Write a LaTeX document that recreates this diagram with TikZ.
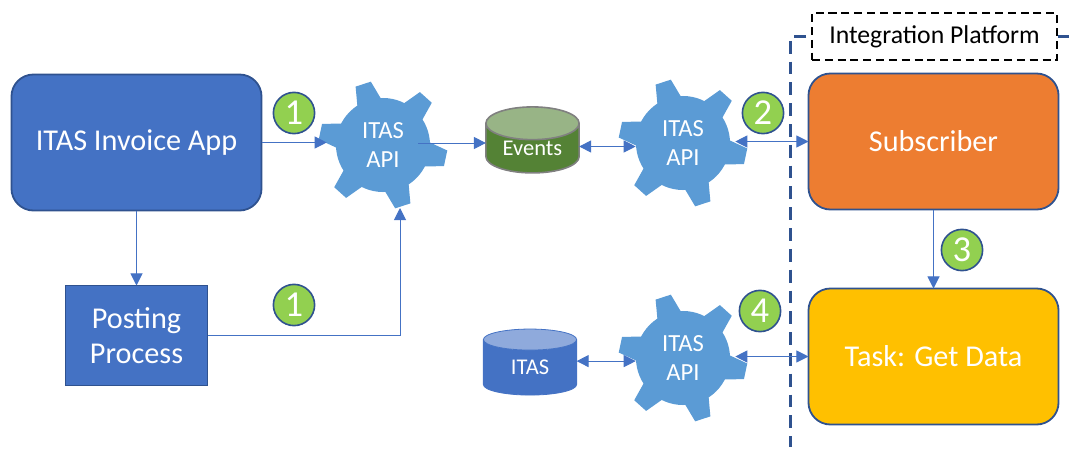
\documentclass[tikz,border=0pt]{standalone}
\usepackage{fontspec}
\setmainfont{Carlito}
\usetikzlibrary{arrows.meta,shapes.geometric}
\definecolor{itasblue}{HTML}{4472C4}
\definecolor{darkedge}{HTML}{2F528F}
\definecolor{gearblue}{HTML}{5B9BD5}
\definecolor{badgegreen}{HTML}{92D050}
\definecolor{subscriberorange}{HTML}{ED7D31}
\definecolor{taskyellow}{HTML}{FFC000}
\definecolor{eventsgreen}{HTML}{548235}
\begin{document}
\begin{tikzpicture}[x=0.025cm,y=-0.025cm,
		bigbox/.style={draw=darkedge, line width=0.45mm, rounded corners=0.55cm, minimum width=6.25cm, minimum height=3.4cm, text=white, font=\fontsize{21.5}{25}\selectfont, outer sep=0pt},
		postbox/.style={draw=darkedge, line width=0.45mm, fill=itasblue, minimum width=3.55cm, minimum height=2.5cm, text=white, align=center, font=\fontsize{21.5}{25}\selectfont, outer sep=0pt},
		gearnode/.style={circle, fill=gearblue, minimum size=2.35cm, inner sep=0pt, text=white, align=center, font=\fontsize{17.5}{20}\selectfont},
		gearport/.style={circle, minimum size=2.6cm, inner sep=0pt},
		badge/.style={circle, draw=darkedge, line width=0.4mm, fill=badgegreen, minimum size=1.03cm, inner sep=0pt, text=white, font=\fontsize{26}{26}\selectfont},
		dbase/.style={cylinder, shape border rotate=90, cylinder uses custom fill, aspect=0.55, minimum width=2.33cm, minimum height=1.65cm, inner sep=0pt, outer sep=0pt, text=white, font=\fontsize{16}{19}\selectfont},
		flow/.style={draw=itasblue, line width=0.25mm, -{Triangle[length=0.3cm,width=0.3cm]}},
		flowboth/.style={flow, {Triangle[length=0.3cm,width=0.3cm]}-{Triangle[length=0.3cm,width=0.3cm]}},
		platline/.style={draw=darkedge, line width=0.75mm, dash pattern=on 0.32cm off 0.2cm},
	]
	\useasboundingbox (0,0) rectangle (1071,455);

	\node[bigbox, fill=itasblue] (app) at (136.5,142.5) {\raisebox{-0.06cm}{ITAS Invoice App}};
	\node[postbox] (posting) at (136.5,335.5) {Posting\\Process};
	\node[bigbox, fill=subscriberorange] (subscriber) at (933.5,141.5) {\raisebox{-0.04cm}{Subscriber}};
	\node[bigbox, fill=taskyellow] (task) at (933.5,356.5) {Task: Get Data};

	%gears, six teeth each
	\foreach \g/\x/\y in {A/383/145,B/683/143,C/683/358}
		{
			\foreach \a in {-12,48,...,288}
				{ \fill[gearblue, shift={(\x,\y)}, rotate=\a] (42,13) -- (64,8) -- (64,-8) -- (42,-13) -- cycle;}
			\node[gearnode] (gear\g) at (\x,\y) {ITAS\\API};
			\node[gearport] (port\g) at (\x,\y) {};
		}

	\node[dbase, draw=gray, line width=0.4mm, cylinder body fill=eventsgreen, cylinder end fill=eventsgreen!60!white] (events) at (532.5,148.5) {\raisebox{-0.08cm}{Events}};
	\node[dbase, draw=itasblue, line width=0.2mm, cylinder body fill=itasblue, cylinder end fill=itasblue!60!white] (itas) at (530,367.5) {\raisebox{-0.08cm}{ITAS}};

	\node[badge] (one) at (294,113) {1};
	\node[badge] (onebis) at (294,305) {1};
	\node[badge] (two) at (763,113) {2};
	\node[badge] (three) at (962,250) {3};
	\node[badge] (four) at (760,311) {4};

	\node[draw, line width=0.4mm, dash pattern=on 0.2cm off 0.12cm, minimum width=6.12cm, minimum height=1.17cm, font=\fontsize{18.3}{21}\selectfont] (platform) at (934.5,36.5) {\raisebox{-0.05cm}{Integration Platform}};
	\coordinate (platend) at (790,447);
	\draw[platline] ([xshift=-0.12cm]platform.west) -- (platform.west -| platend) -- (platend);
	\draw[platline] (platform.east) -- ++(11,0);

	\coordinate (gearAout) at (418,143);
	\coordinate (gearAin) at (400,208);
	\draw[flow] (app.east) -- ([xshift=-0.1cm]app.east -| portA.west);
	\draw[flow] (gearAout) -- (gearAout -| events.west);
	\draw[flow] (app.south) -- (posting.north);
	\draw[flow] (posting.east) -| (gearAin);
	\draw[flowboth] ([yshift=0.05cm]events.east) -- ([yshift=0.05cm]events.east -| gearB.west);
	\draw[flowboth] (subscriber.west -| portB.east) -- (subscriber.west);
	\draw[flow] (subscriber.south) -- (task.north);
	\draw[flowboth] ([yshift=0.16cm]itas.east) -- ([yshift=0.16cm]itas.east -| gearC.west);
	\draw[flowboth] (task.west -| portC.east) -- (task.west);
\end{tikzpicture}
\end{document}
